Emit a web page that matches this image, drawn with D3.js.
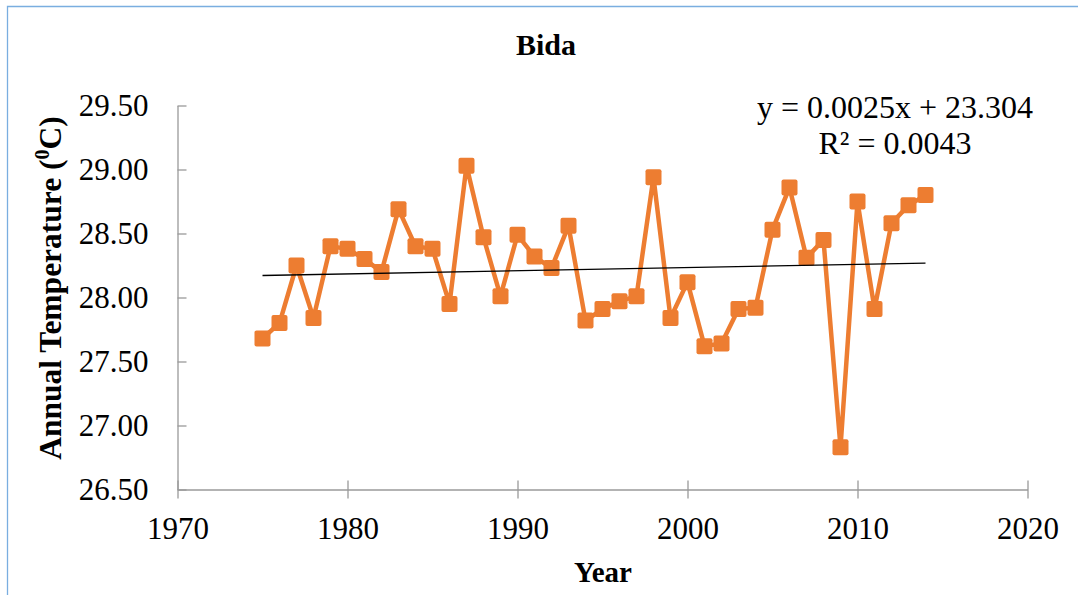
<!DOCTYPE html>
<html>
<head>
<meta charset="utf-8">
<title>Bida</title>
<style>
  body { margin: 0; background: #fff; }
  svg text { font-family: "Liberation Serif", "Times New Roman", serif; fill: #000; }
</style>
</head>
<body>
<svg id="chart" width="1078" height="595"></svg>
<script src="https://d3js.org/d3.v7.min.js"></script>
<script>
// annual mean temperature at Bida
let years = d3.range(1975, 2015);
let temps = [27.68, 27.80, 28.25, 27.84, 28.40, 28.38, 28.30, 28.20, 28.69, 28.40,
             28.38, 27.95, 29.03, 28.47, 28.01, 28.49, 28.32, 28.23, 28.56, 27.82,
             27.91, 27.97, 28.01, 28.94, 27.84, 28.12, 27.62, 27.64, 27.91, 27.92,
             28.53, 28.86, 28.31, 28.45, 26.83, 28.75, 27.91, 28.58, 28.72, 28.80];
let xTicks = [1970, 1980, 1990, 2000, 2010, 2020];
let yTicks = [26.5, 27.0, 27.5, 28.0, 28.5, 29.0, 29.5];
let eqnLines = ["y = 0.0025x + 23.304", "R\u00B2 = 0.0043"];

let svg = d3.select("#chart");

// frame of the chart area (only left + top edge are in view)
svg.append("path")
    .attr("d", "M7.5,595 L7.5,6.5 L1078,6.5")
    .attr("fill", "none")
    .attr("stroke", "#7aaee0")
    .attr("stroke-width", 1.3);

let x = d3.scaleLinear().domain([1970, 2020]).range([177.5, 1027.5]);
let y = d3.scaleLinear().domain([26.5, 29.5]).range([489.5, 105.5]);

// axes
let xAxis = svg.append("g")
    .attr("transform", "translate(0," + y(26.5) + ")")
    .call(d3.axisBottom(x).tickValues(xTicks).tickFormat(d3.format("d"))
        .tickSizeInner(9).tickSizeOuter(0).tickPadding(18));
xAxis.selectAll(".tick line").attr("y1", -9);

let yAxis = svg.append("g")
    .attr("transform", "translate(" + x(1970) + ",0)")
    .call(d3.axisLeft(y).tickValues(yTicks).tickFormat(d3.format(".2f"))
        .tickSizeInner(9).tickSizeOuter(0).tickPadding(20));
yAxis.selectAll(".tick line").attr("x2", 9);

svg.selectAll(".domain, .tick line").attr("stroke", "#9a9a9a").attr("stroke-width", 1.3);
svg.selectAll(".tick text")
    .style("font-family", "'Liberation Serif', serif")
    .style("font-size", "31px")
    .attr("fill", "#000");
xAxis.selectAll(".tick text").attr("dy", "0.71em");

// series line
let line = d3.line().x((d, i) => x(years[i])).y(d => y(d));
svg.append("path")
    .datum(temps)
    .attr("d", line)
    .attr("fill", "none")
    .attr("stroke", "#ed7d31")
    .attr("stroke-width", 4.5)
    .attr("stroke-linejoin", "round");

// markers
let ms = 16;
svg.selectAll("rect.mark")
    .data(temps)
    .enter()
    .append("rect")
    .attr("class", "mark")
    .attr("x", (d, i) => x(years[i]) - ms / 2)
    .attr("y", d => y(d) - ms / 2)
    .attr("width", ms)
    .attr("height", ms)
    .attr("rx", 2)
    .attr("fill", "#ed7d31");

// linear trend fitted to the data
let mx = d3.mean(years), my = d3.mean(temps);
let sxy = d3.sum(years, (v, i) => (v - mx) * (temps[i] - my));
let sxx = d3.sum(years, v => (v - mx) * (v - mx));
let slope = sxy / sxx, icpt = my - slope * mx;
let x0 = years[0], x1 = years[years.length - 1];
svg.append("line")
    .attr("x1", x(x0)).attr("y1", y(icpt + slope * x0))
    .attr("x2", x(x1)).attr("y2", y(icpt + slope * x1))
    .attr("stroke", "#000")
    .attr("stroke-width", 1.3);

// equation label
svg.selectAll("text.eqn")
    .data(eqnLines)
    .enter()
    .append("text")
    .attr("class", "eqn")
    .attr("x", 895)
    .attr("y", (d, i) => 118 + i * 36)
    .attr("text-anchor", "middle")
    .style("font-size", "32px")
    .text(d => d);

// titles
svg.append("text")
    .attr("x", 546).attr("y", 55)
    .attr("text-anchor", "middle")
    .style("font-size", "30px").style("font-weight", "bold")
    .text("Bida");

svg.append("text")
    .attr("x", 603).attr("y", 582)
    .attr("text-anchor", "middle")
    .style("font-size", "29px").style("font-weight", "bold")
    .text("Year");

let yt = svg.append("text")
    .attr("transform", "translate(61,288) rotate(-90)")
    .attr("text-anchor", "middle")
    .style("font-size", "31.5px").style("font-weight", "bold");
yt.append("tspan").text("Annual Temperature (");
yt.append("tspan").attr("dy", -12).style("font-size", "20px").text("0");
yt.append("tspan").attr("dy", 12).text("C)");
</script>
</body>
</html>
